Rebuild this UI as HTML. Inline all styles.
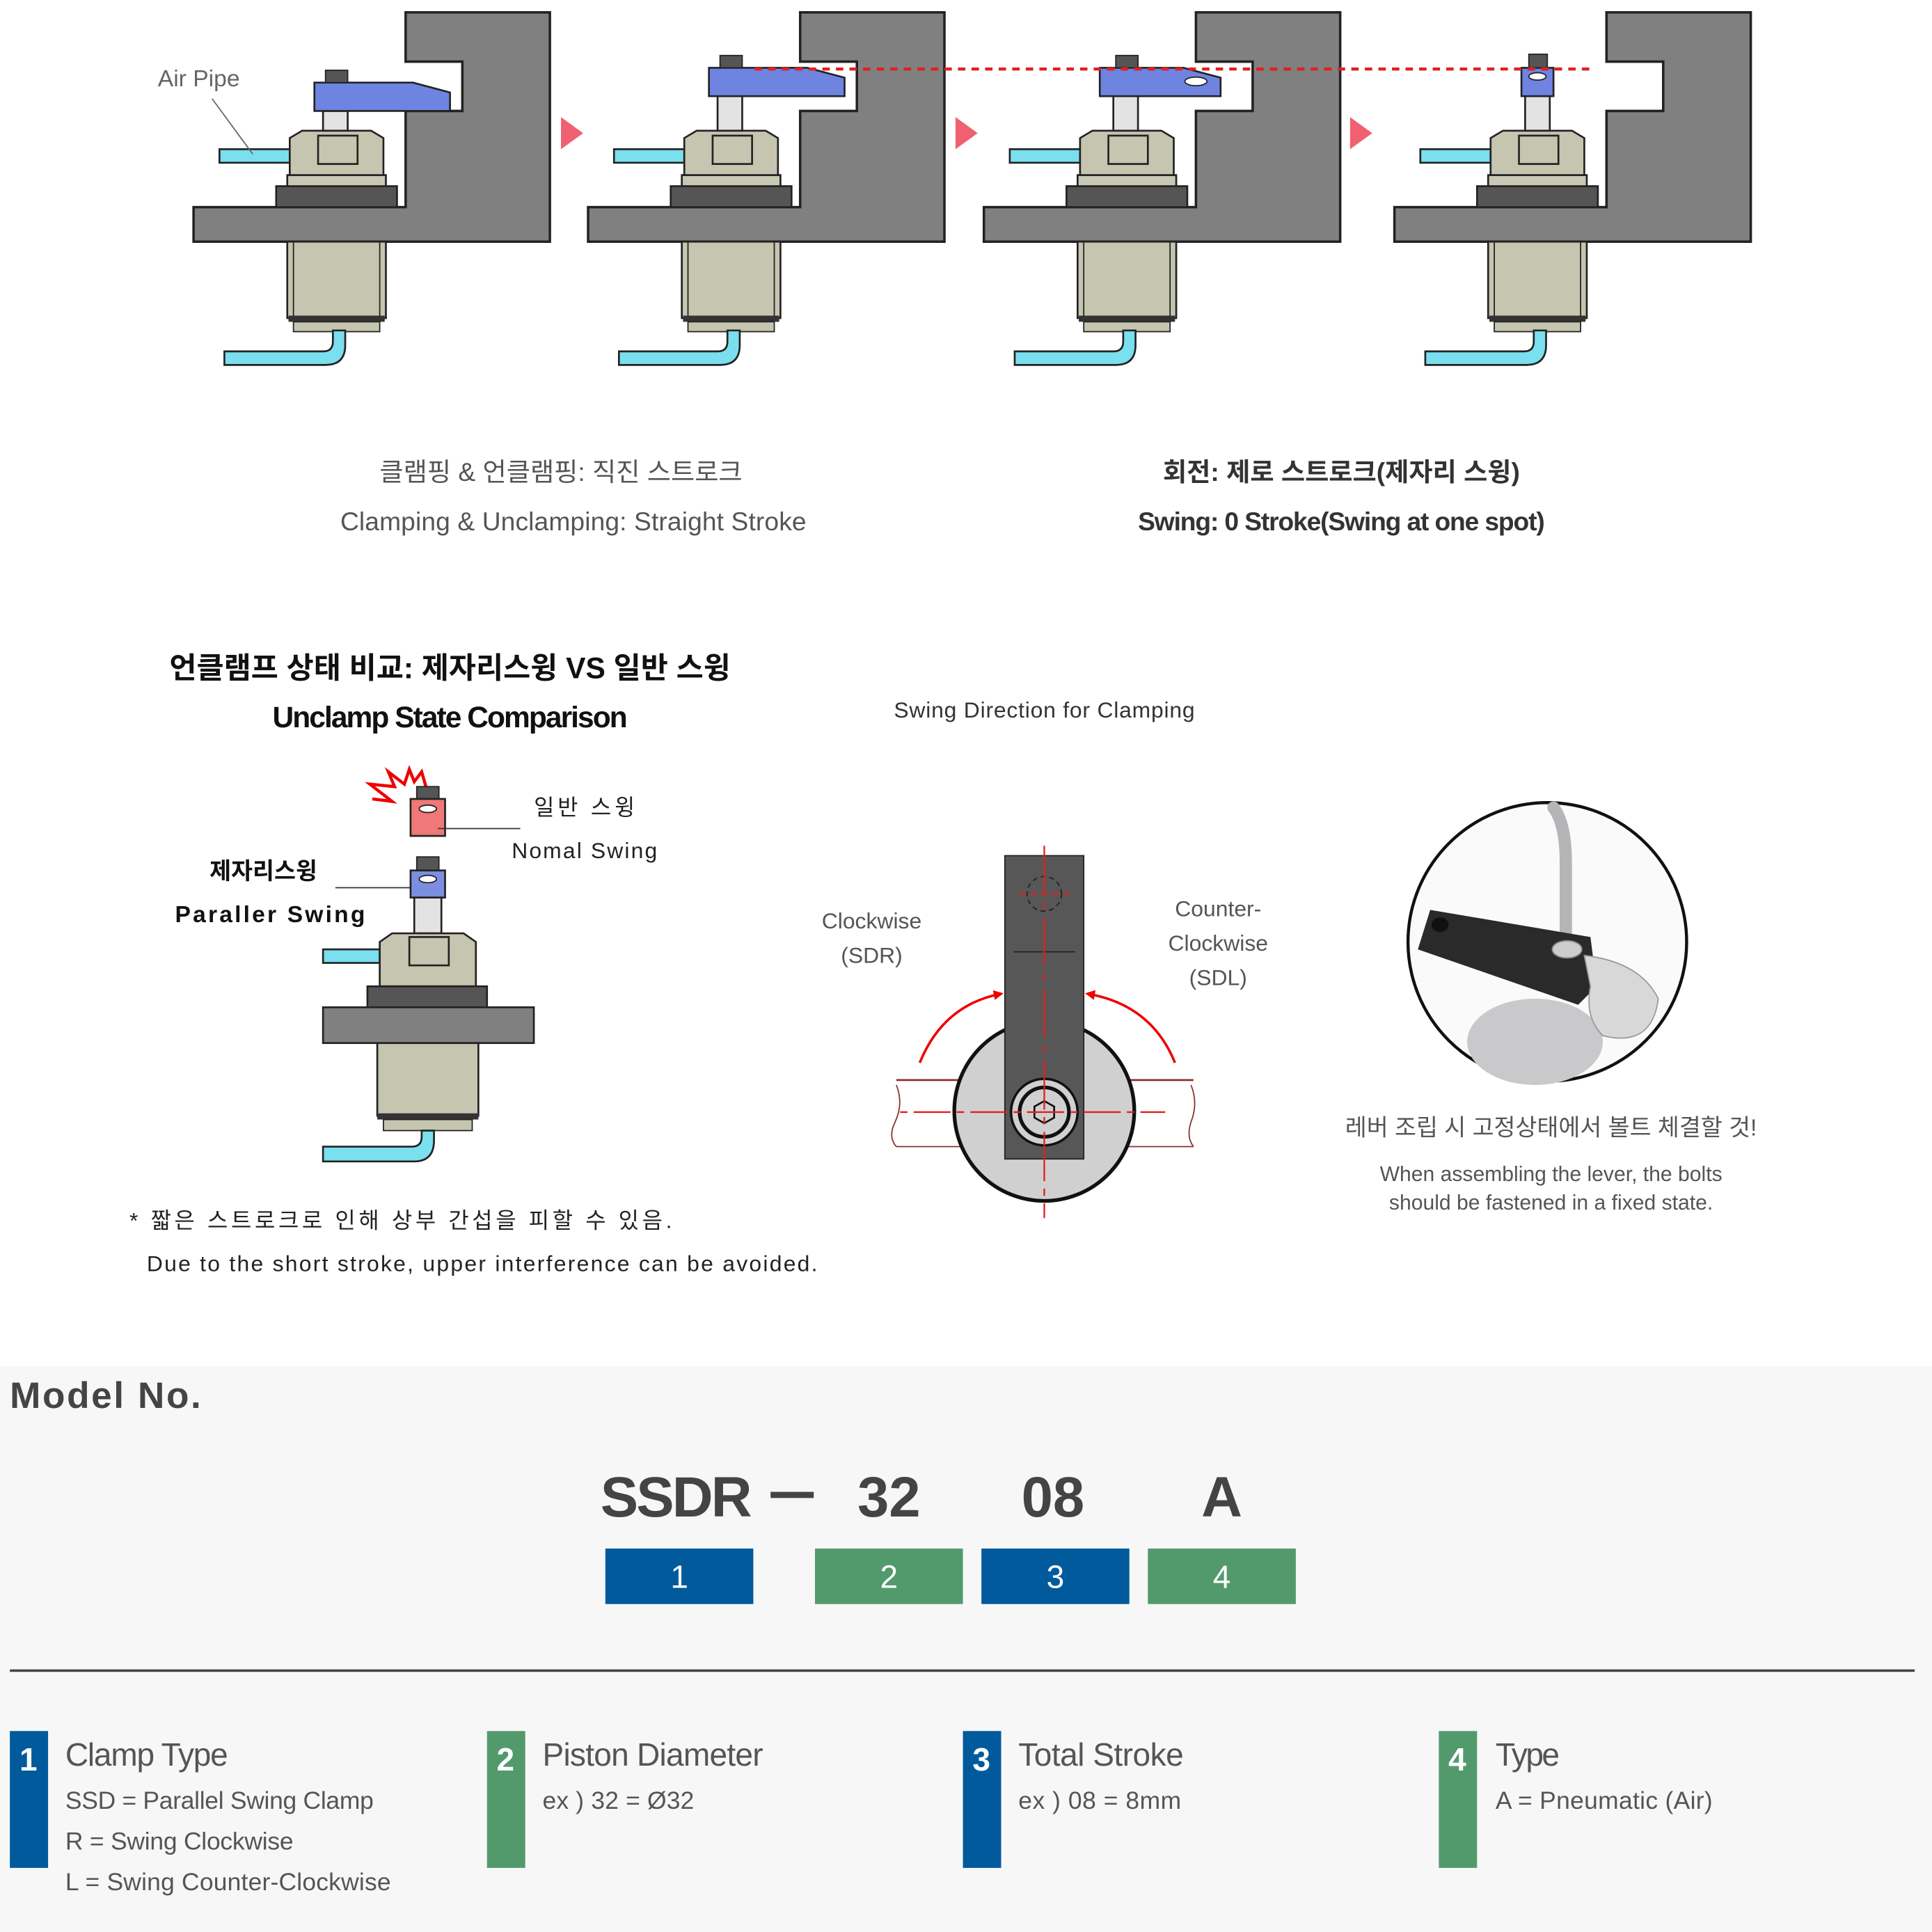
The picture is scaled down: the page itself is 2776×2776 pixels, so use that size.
<!DOCTYPE html>
<html><head><meta charset="utf-8"><style>
html,body{margin:0;padding:0;background:#fff;}
svg{display:block;}
text{font-family:"Liberation Sans","Noto Sans CJK KR",sans-serif;}
</style></head><body>
<svg width="2776" height="2776" viewBox="0 0 1567 1567" xmlns="http://www.w3.org/2000/svg">
<defs>
<g id="clamp">
  <path d="M329,10 H446 V196 H157 V168 H329 V90 H375 V50 H329 Z" fill="#808080" stroke="#222" stroke-width="2"/>
  <rect x="178" y="121" width="57" height="11" fill="#7adfee" stroke="#222" stroke-width="1.5"/>
  <rect x="233" y="142" width="80" height="10" fill="#c8c8b5" stroke="#222" stroke-width="1.5"/>
  <rect x="224" y="151" width="98" height="17" fill="#555" stroke="#222" stroke-width="1.5"/>
  <polygon points="235,142 235,112 245,106 301,106 311,112 311,142" fill="#c5c5b0" stroke="#222" stroke-width="1.5"/>
  <rect x="258" y="110" width="32" height="23" fill="#c5c5b0" stroke="#222" stroke-width="1.5"/>
  <rect x="233" y="196" width="80" height="62" fill="#c5c5b0" stroke="#222" stroke-width="1.5"/>
  <line x1="238" y1="196" x2="238" y2="258" stroke="#222" stroke-width="1"/>
  <line x1="308" y1="196" x2="308" y2="258" stroke="#222" stroke-width="1"/>
  <rect x="234" y="256" width="78" height="5" fill="#333"/>
  <rect x="238" y="261" width="70" height="8" fill="#c5c5b0" stroke="#222" stroke-width="1"/>
  <path d="M182,285 H262 Q270,285 270,277 V268 H280 V280 Q280,296 264,296 H182 Z" fill="#7adfee" stroke="#222" stroke-width="1.5"/>
</g>
<marker id="ah" markerWidth="8" markerHeight="8" refX="6" refY="4" orient="auto" markerUnits="userSpaceOnUse">
  <path d="M0,0 L8,4 L0,8 Z" fill="#e00"/>
</marker>
</defs>

<use href="#clamp"/>
<use href="#clamp" transform="translate(320,0)"/>
<use href="#clamp" transform="translate(641,0)"/>
<use href="#clamp" transform="translate(974,0)"/>

<rect x="262" y="90" width="20" height="16" fill="#e3e3e3" stroke="#222" stroke-width="1.5"/>
<path d="M255,67 H335 L365,75 V90 H255 Z" fill="#6f84e0" stroke="#222" stroke-width="1.5"/>
<rect x="264" y="57" width="18" height="10" fill="#555" stroke="#222" stroke-width="1"/>
<rect x="582" y="78" width="20" height="28" fill="#e3e3e3" stroke="#222" stroke-width="1.5"/>
<path d="M575,55 H655 L685,63 V78 H575 Z" fill="#6f84e0" stroke="#222" stroke-width="1.5"/>
<rect x="584" y="45" width="18" height="10" fill="#555" stroke="#222" stroke-width="1"/>
<rect x="903" y="78" width="20" height="28" fill="#e3e3e3" stroke="#222" stroke-width="1.5"/>
<path d="M892,55 H960 L990,63 V78 H892 Z" fill="#6f84e0" stroke="#222" stroke-width="1.5"/>
<ellipse cx="970" cy="66" rx="9" ry="3.5" fill="#fff" stroke="#222" stroke-width="1"/>
<rect x="905" y="45" width="18" height="10" fill="#555" stroke="#222" stroke-width="1"/>
<rect x="1237" y="78" width="20" height="28" fill="#e3e3e3" stroke="#222" stroke-width="1.5"/>
<rect x="1234" y="55" width="26" height="23" fill="#6f84e0" stroke="#222" stroke-width="1.5"/>
<ellipse cx="1247" cy="62" rx="7" ry="3" fill="#fff" stroke="#222" stroke-width="1"/>
<rect x="1240" y="44" width="15" height="11" fill="#555" stroke="#222" stroke-width="1"/>

<line x1="612" y1="56" x2="1290" y2="56" stroke="#e02020" stroke-width="2.5" stroke-dasharray="6,5"/>

<polygon points="455,95 473,108 455,121" fill="#f06070"/>
<polygon points="775,95 793,108 775,121" fill="#f06070"/>
<polygon points="1095,95 1113,108 1095,121" fill="#f06070"/>

<text x="128" y="70" font-size="19" fill="#666">Air Pipe</text>
<line x1="172" y1="80" x2="205" y2="125" stroke="#666" stroke-width="1"/>

<text x="455" y="390" font-size="21" fill="#555" text-anchor="middle">클램핑 &amp; 언클램핑: 직진 스트로크</text>
<text x="465" y="430" font-size="21" fill="#555" text-anchor="middle" textLength="378">Clamping &amp; Unclamping: Straight Stroke</text>
<text x="1088" y="390" font-size="21" fill="#333" text-anchor="middle" font-weight="bold">회전: 제로 스트로크(제자리 스윙)</text>
<text x="1088" y="430" font-size="21" fill="#333" text-anchor="middle" font-weight="bold" textLength="330">Swing: 0 Stroke(Swing at one spot)</text>

<text x="365" y="550" font-size="24" fill="#111" text-anchor="middle" font-weight="bold">언클램프 상태 비교: 제자리스윙 VS 일반 스윙</text>
<text x="365" y="590" font-size="24" fill="#111" text-anchor="middle" font-weight="bold" textLength="288">Unclamp State Comparison</text>

<polyline points="302,648 318,650 300,636 320,638 315,626 328,636 332,624 336,634 342,626 346,640" fill="none" stroke="#e00" stroke-width="2.5"/>
<rect x="338" y="638" width="18" height="10" fill="#555" stroke="#222" stroke-width="1"/>
<rect x="333" y="648" width="28" height="30" fill="#f07878" stroke="#222" stroke-width="1.5"/>
<ellipse cx="347" cy="656" rx="7" ry="3" fill="#fff" stroke="#222" stroke-width="1"/>
<line x1="355" y1="672" x2="422" y2="672" stroke="#333" stroke-width="1"/>
<text x="433" y="661" font-size="18" fill="#222" textLength="82">일반 스윙</text>
<text x="415" y="696" font-size="18" fill="#222" textLength="118">Nomal Swing</text>
<text x="170" y="713" font-size="19" fill="#111" font-weight="bold">제자리스윙</text>
<line x1="272" y1="720" x2="340" y2="720" stroke="#333" stroke-width="1"/>
<text x="142" y="748" font-size="19" fill="#111" font-weight="bold" textLength="154">Paraller Swing</text>

<rect x="338" y="695" width="18" height="11" fill="#555" stroke="#222" stroke-width="1"/>
<rect x="333" y="706" width="28" height="22" fill="#7b8ee0" stroke="#222" stroke-width="1.5"/>
<ellipse cx="347" cy="713" rx="7" ry="3" fill="#fff" stroke="#222" stroke-width="1"/>
<rect x="336" y="728" width="22" height="29" fill="#e3e3e3" stroke="#222" stroke-width="1.5"/>
<rect x="262" y="770" width="46" height="11" fill="#7adfee" stroke="#222" stroke-width="1.5"/>
<polygon points="308,800 308,764 318,757 376,757 386,764 386,800" fill="#c5c5b0" stroke="#222" stroke-width="1.5"/>
<rect x="332" y="760" width="32" height="23" fill="#c5c5b0" stroke="#222" stroke-width="1.5"/>
<rect x="298" y="800" width="97" height="17" fill="#555" stroke="#222" stroke-width="1.5"/>
<rect x="262" y="817" width="171" height="29" fill="#808080" stroke="#222" stroke-width="1.5"/>
<rect x="306" y="846" width="82" height="59" fill="#c5c5b0" stroke="#222" stroke-width="1.5"/>
<rect x="306" y="903" width="82" height="5" fill="#333"/>
<rect x="311" y="908" width="72" height="9" fill="#c5c5b0" stroke="#222" stroke-width="1"/>
<path d="M262,930 H334 Q342,930 342,922 V917 H352 V925 Q352,942 336,942 H262 Z" fill="#7adfee" stroke="#222" stroke-width="1.5"/>

<text x="105" y="996" font-size="18" fill="#222" textLength="440">* 짧은 스트로크로 인해 상부 간섭을 피할 수 있음.</text>
<text x="119" y="1031" font-size="18" fill="#222" textLength="544">Due to the short stroke, upper interference can be avoided.</text>

<text x="847" y="582" font-size="18" fill="#333" text-anchor="middle" textLength="244">Swing Direction for Clamping</text>
<text x="707" y="753" font-size="18" fill="#555" text-anchor="middle">Clockwise</text>
<text x="707" y="781" font-size="18" fill="#555" text-anchor="middle">(SDR)</text>
<text x="988" y="743" font-size="18" fill="#555" text-anchor="middle">Counter-</text>
<text x="988" y="771" font-size="18" fill="#555" text-anchor="middle">Clockwise</text>
<text x="988" y="799" font-size="18" fill="#555" text-anchor="middle">(SDL)</text>

<line x1="727" y1="876" x2="968" y2="876" stroke="#8a3030" stroke-width="1.5"/>
<line x1="727" y1="930" x2="968" y2="930" stroke="#8a3030" stroke-width="1"/>
<path d="M727,880 Q733,895 726,910 Q720,922 727,930" fill="none" stroke="#8a3030" stroke-width="1"/>
<path d="M966,880 Q972,895 966,910 Q962,922 968,930" fill="none" stroke="#8a3030" stroke-width="1"/>
<circle cx="847" cy="901" r="73" fill="#d0d0d0" stroke="#111" stroke-width="3"/>
<rect x="815" y="694" width="64" height="246" fill="#575757" stroke="#222" stroke-width="1"/>
<circle cx="847" cy="725" r="14" fill="none" stroke="#222" stroke-width="1" stroke-dasharray="4,3"/>
<line x1="822" y1="772" x2="872" y2="772" stroke="#222" stroke-width="1"/>
<circle cx="847" cy="902" r="27" fill="#d0d0d0" stroke="#111" stroke-width="2"/>
<circle cx="847" cy="902" r="20" fill="#d0d0d0" stroke="#111" stroke-width="3"/>
<polygon points="847,893 855,897.5 855,906.5 847,911 839,906.5 839,897.5" fill="#d0d0d0" stroke="#111" stroke-width="1.5"/>
<line x1="847" y1="686" x2="847" y2="988" stroke="#e02020" stroke-width="1.3" stroke-dasharray="40,6,6,6"/>
<line x1="730" y1="902" x2="945" y2="902" stroke="#e02020" stroke-width="1.3" stroke-dasharray="6,5,30,5"/>
<line x1="826" y1="725" x2="868" y2="725" stroke="#e02020" stroke-width="1.3" stroke-dasharray="6,3"/>
<path d="M746,862 Q765,815 812,806" fill="none" stroke="#e00" stroke-width="2" marker-end="url(#ah)"/>
<path d="M953,862 Q934,815 882,806" fill="none" stroke="#e00" stroke-width="2" marker-end="url(#ah)"/>

<circle cx="1255" cy="764" r="113" fill="#fafafa" stroke="#111" stroke-width="2.5"/>
<ellipse cx="1245" cy="845" rx="55" ry="35" fill="#c9c9cc"/>
<path d="M1260,655 Q1270,668 1270,700 V770" fill="none" stroke="#b5b5b8" stroke-width="10" stroke-linecap="round"/>
<path d="M1160,738 L1290,760 L1295,800 L1280,815 L1150,770 Z" fill="#2a2a2a"/>
<ellipse cx="1168" cy="750" rx="7" ry="6" fill="#111"/>
<ellipse cx="1271" cy="770" rx="12" ry="7" fill="#ccc" stroke="#888"/>
<path d="M1285,775 Q1330,780 1345,810 Q1340,850 1300,840 Q1285,825 1290,800 Z" fill="#d8d8d8" stroke="#999"/>

<text x="1258" y="921" font-size="19" fill="#555" text-anchor="middle">레버 조립 시 고정상태에서 볼트 체결할 것!</text>
<text x="1258" y="958" font-size="17" fill="#555" text-anchor="middle">When assembling the lever, the bolts</text>
<text x="1258" y="981" font-size="17" fill="#555" text-anchor="middle">should be fastened in a fixed state.</text>

<rect x="0" y="1108" width="1567" height="459" fill="#f7f7f7"/>
<text x="8" y="1142" font-size="30" fill="#444" font-weight="bold" textLength="155">Model No.</text>
<text x="487" y="1230" font-size="46" fill="#444" font-weight="bold" textLength="123">SSDR</text>
<rect x="625" y="1210" width="35" height="5" fill="#444"/>
<text x="721" y="1230" font-size="46" fill="#444" font-weight="bold" text-anchor="middle">32</text>
<text x="854" y="1230" font-size="46" fill="#444" font-weight="bold" text-anchor="middle">08</text>
<text x="991" y="1230" font-size="46" fill="#444" font-weight="bold" text-anchor="middle">A</text>
<rect x="491" y="1256" width="120" height="45" fill="#005a9c"/>
<rect x="661" y="1256" width="120" height="45" fill="#529a6c"/>
<rect x="796" y="1256" width="120" height="45" fill="#005a9c"/>
<rect x="931" y="1256" width="120" height="45" fill="#529a6c"/>
<text x="551" y="1288" font-size="26" fill="#fff" text-anchor="middle">1</text>
<text x="721" y="1288" font-size="26" fill="#fff" text-anchor="middle">2</text>
<text x="856" y="1288" font-size="26" fill="#fff" text-anchor="middle">3</text>
<text x="991" y="1288" font-size="26" fill="#fff" text-anchor="middle">4</text>
<rect x="8" y="1354" width="1545" height="2" fill="#444"/>

<rect x="8" y="1404" width="31" height="111" fill="#005a9c"/>
<rect x="395" y="1404" width="31" height="111" fill="#529a6c"/>
<rect x="781" y="1404" width="31" height="111" fill="#005a9c"/>
<rect x="1167" y="1404" width="31" height="111" fill="#529a6c"/>
<text x="23" y="1436" font-size="26" fill="#fff" font-weight="bold" text-anchor="middle">1</text>
<text x="410" y="1436" font-size="26" fill="#fff" font-weight="bold" text-anchor="middle">2</text>
<text x="796" y="1436" font-size="26" fill="#fff" font-weight="bold" text-anchor="middle">3</text>
<text x="1182" y="1436" font-size="26" fill="#fff" font-weight="bold" text-anchor="middle">4</text>
<text x="53" y="1432" font-size="26" fill="#555" textLength="132">Clamp Type</text>
<text x="440" y="1432" font-size="26" fill="#555" textLength="179">Piston Diameter</text>
<text x="826" y="1432" font-size="26" fill="#555" textLength="134">Total Stroke</text>
<text x="1213" y="1432" font-size="26" fill="#555" textLength="52">Type</text>
<text x="53" y="1467" font-size="20" fill="#555" textLength="250">SSD = Parallel Swing Clamp</text>
<text x="53" y="1500" font-size="20" fill="#555" textLength="185">R = Swing Clockwise</text>
<text x="53" y="1533" font-size="20" fill="#555" textLength="264">L = Swing Counter-Clockwise</text>
<text x="440" y="1467" font-size="20" fill="#555" textLength="123">ex ) 32 = Ø32</text>
<text x="826" y="1467" font-size="20" fill="#555" textLength="132">ex ) 08 = 8mm</text>
<text x="1213" y="1467" font-size="20" fill="#555" textLength="176">A = Pneumatic (Air)</text>
</svg>
</body></html>
